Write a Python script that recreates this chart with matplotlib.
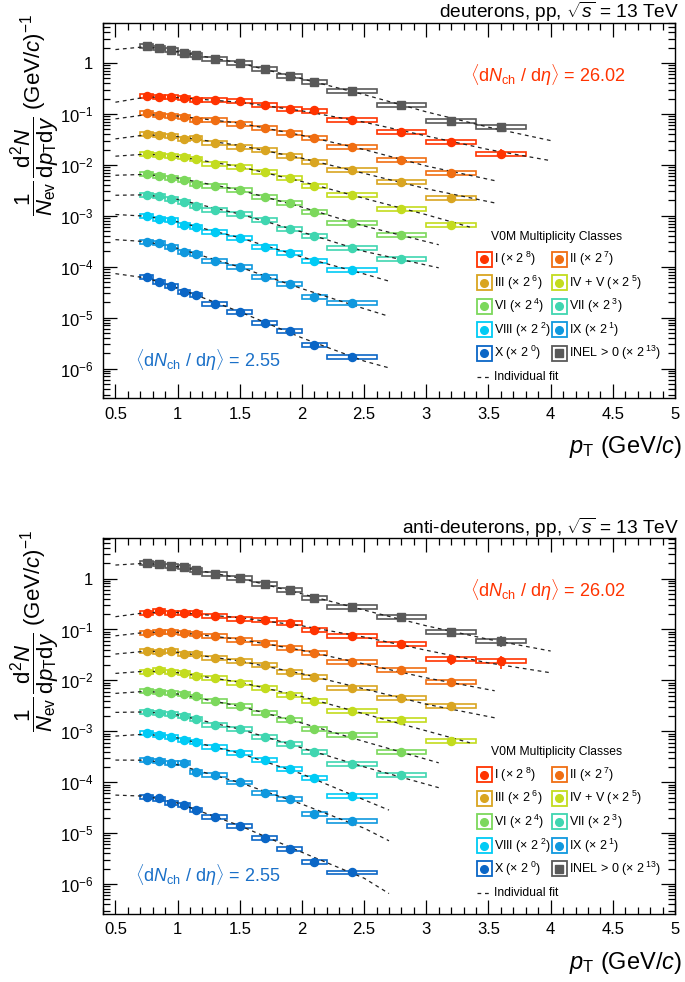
import numpy as np
import matplotlib
matplotlib.use("Agg")
import matplotlib.pyplot as plt
from matplotlib.patches import Rectangle
from matplotlib.ticker import LogLocator, MultipleLocator, FuncFormatter, NullFormatter

plt.rcParams['font.family'] = ['Liberation Sans', 'DejaVu Sans']
plt.rcParams['mathtext.fontset'] = 'custom'
plt.rcParams['mathtext.rm'] = 'Liberation Sans'
plt.rcParams['mathtext.it'] = 'Liberation Sans:italic'
plt.rcParams['mathtext.bf'] = 'Liberation Sans:bold'

W, H = 685, 982

# pT binning (GeV/c)
pt_edges = [0.7, 0.8, 0.9, 1.0, 1.1, 1.2, 1.4, 1.6, 1.8, 2.0, 2.2, 2.6, 3.0, 3.4, 3.8]

class_names = ["I", "II", "III", "IV + V", "VI", "VII", "VIII", "IX", "X", "INEL > 0"]
scale_exp = [8, 7, 6, 5, 4, 3, 2, 1, 0, 13]
class_colors = ["#ff3300", "#f06e12", "#d9a521", "#c3dc1e", "#7cd85c",
                "#3fd6b0", "#00cbf5", "#0f98de", "#0a66c6", "#595959"]

# scaled spectra, deuterons (order I ... X, INEL>0)
deut_yield = [
    [0.223, 0.22, 0.22, 0.21, 0.189, 0.186, 0.181, 0.153, 0.126, 0.117, 0.0776, 0.0445, 0.0283, 0.0167],
    [0.105, 0.0944, 0.0918, 0.086, 0.0752, 0.0766, 0.0648, 0.0533, 0.0425, 0.0333, 0.0222, 0.0127, 0.00684],
    [0.0406, 0.0382, 0.0372, 0.0324, 0.0333, 0.0274, 0.0229, 0.0194, 0.015, 0.0116, 0.00783, 0.00463, 0.00225],
    [0.0167, 0.0159, 0.015, 0.0141, 0.0131, 0.0106, 0.00927, 0.00716, 0.00556, 0.0038, 0.00253, 0.00138, 0.00065],
    [0.00665, 0.00608, 0.00562, 0.00514, 0.0043, 0.0038, 0.00317, 0.00238, 0.00176, 0.00121, 0.000735, 0.000427],
    [0.00261, 0.00242, 0.00218, 0.0019, 0.00154, 0.00132, 0.00109, 0.000816, 0.000553, 0.000405, 0.000237, 0.000144],
    [0.00101, 0.000881, 0.000816, 0.000664, 0.000606, 0.00049, 0.000368, 0.000245, 0.000187, 0.000128, 8.5e-5],
    [0.000311, 0.000294, 0.000245, 0.000195, 0.000181, 0.000132, 9.9e-5, 6.3e-5, 4.6e-5, 2.59e-5, 1.91e-5],
    [6.3e-5, 5.1e-5, 4.2e-5, 3.24e-5, 2.83e-5, 1.86e-5, 1.31e-5, 7.98e-6, 5.56e-6, 2.86e-6, 1.69e-6],
    [2.14, 1.95, 1.78, 1.59, 1.42, 1.21, 1.01, 0.77, 0.568, 0.42, 0.279, 0.151, 0.074, 0.056],
]

# scaled spectra, anti-deuterons
adeut_yield = [
    [0.213, 0.233, 0.213, 0.21, 0.21, 0.183, 0.16, 0.151, 0.132, 0.0986, 0.0741, 0.0517, 0.0259, 0.0236],
    [0.0861, 0.0902, 0.0902, 0.0861, 0.0802, 0.0752, 0.0611, 0.0541, 0.0437, 0.0339, 0.0232, 0.0159, 0.00926],
    [0.0382, 0.0365, 0.0377, 0.0324, 0.0324, 0.027, 0.0239, 0.0197, 0.0146, 0.0115, 0.00697, 0.00443, 0.00317],
    [0.0148, 0.0159, 0.0146, 0.0141, 0.0123, 0.0111, 0.00897, 0.00697, 0.00514, 0.00397, 0.00253, 0.00168, 0.00065],
    [0.00616, 0.00589, 0.00562, 0.00538, 0.00484, 0.00387, 0.00313, 0.00228, 0.00171, 0.00112, 0.00083, 0.000385],
    [0.00238, 0.00231, 0.00218, 0.00199, 0.00174, 0.00132, 0.00109, 0.00078, 0.000553, 0.00039, 0.000224, 0.000138],
    [0.00091, 0.000853, 0.00078, 0.000662, 0.000622, 0.000497, 0.000368, 0.000272, 0.000179, 0.000119, 5.33e-5],
    [0.000272, 0.000264, 0.000241, 0.000234, 0.000158, 0.00014, 9.9e-5, 6.2e-5, 4.6e-5, 2.33e-5, 1.72e-5],
    [5.16e-5, 4.8e-5, 3.94e-5, 3.5e-5, 2.83e-5, 2.09e-5, 1.39e-5, 8.1e-6, 4.79e-6, 2.73e-6, 1.69e-6],
    [1.99, 1.93, 1.79, 1.66, 1.47, 1.24, 1.01, 0.77, 0.586, 0.42, 0.272, 0.173, 0.090, 0.059],
]

# relative uncertainties
sys_rel = 0.09
deut_stat = {0: {12: 0.08, 13: 0.22}, 3: {12: 0.2}}
adeut_stat = {0: {12: 0.22, 13: 0.3}, 3: {12: 0.18}, 8: {10: 0.2}, 9: {13: 0.25}}

# individual fits, values read at the nodes below (last node = fit_end of the class)
fit_nodes = [0.5, 0.75, 1.0, 1.5, 2.0, 2.5, 3.0, 3.5]
fit_end = [4.0, 3.55, 3.55, 3.35, 3.1, 3.1, 2.7, 2.7, 2.7, 4.0]
deut_fit = [
    [0.17, 0.215, 0.21, 0.17, 0.115, 0.069, 0.037, 0.020, 0.0121],
    [0.080, 0.097, 0.091, 0.066, 0.038, 0.020, 0.0095, 0.0049],
    [0.0324, 0.039, 0.036, 0.024, 0.0135, 0.0068, 0.0034, 0.00179],
    [0.0148, 0.0163, 0.0146, 0.0092, 0.0047, 0.0022, 0.00105, 0.00060],
    [0.00625, 0.0065, 0.0055, 0.0032, 0.00148, 0.00063, 0.00027],
    [0.00253, 0.00258, 0.0021, 0.00108, 0.00048, 0.0002, 9.5e-5],
    [0.00106, 0.00098, 0.00076, 0.00037, 0.000155, 7.2e-5, 5.2e-5],
    [0.00034, 0.00031, 0.00023, 9.8e-5, 3.7e-5, 1.5e-5, 1.06e-5],
    [7.3e-5, 6.0e-5, 3.8e-5, 1.3e-5, 4.0e-6, 1.4e-6, 1.03e-6],
    [1.84, 2.1, 1.68, 1.0, 0.49, 0.24, 0.11, 0.055, 0.030],
]
adeut_fit = [
    [0.178, 0.215, 0.215, 0.17, 0.118, 0.071, 0.039, 0.022, 0.0141],
    [0.075, 0.088, 0.088, 0.064, 0.039, 0.021, 0.0112, 0.00625],
    [0.0329, 0.0375, 0.0355, 0.024, 0.0135, 0.0068, 0.0034, 0.00184],
    [0.0137, 0.0152, 0.0142, 0.0092, 0.0048, 0.0022, 0.00102, 0.000594],
    [0.00555, 0.0061, 0.0054, 0.0031, 0.00145, 0.00063, 0.00024],
    [0.00235, 0.0024, 0.0021, 0.0011, 0.00047, 0.0002, 7.8e-5],
    [0.000805, 0.00088, 0.00074, 0.00037, 0.000145, 4.5e-5, 2.83e-5],
    [0.000272, 0.00027, 0.00022, 9.8e-5, 3.7e-5, 1.25e-5, 7.06e-6],
    [5.58e-5, 5.3e-5, 3.9e-5, 1.4e-5, 4.2e-6, 1.3e-6, 6.5e-7],
    [1.84, 2.0, 1.72, 1.02, 0.5, 0.24, 0.118, 0.064, 0.0377],
]

panel_titles = ["deuterons, pp, $\\sqrt{s}$ = 13 TeV", "anti-deuterons, pp, $\\sqrt{s}$ = 13 TeV"]
dndeta_high = "26.02"
dndeta_low = "2.55"


def fx(px):
    return px / W


def fy(py):
    return 1 - py / H


def log_label(v, pos):
    e = int(round(np.log10(v)))
    if e == 0:
        return "1"
    return "$10^{%d}$" % e


fig = plt.figure(figsize=(W / 100, H / 100), dpi=100)

edges = np.array(pt_edges)
centers = 0.5 * (edges[:-1] + edges[1:])
widths = np.diff(edges)


def draw_panel(dy, yields, fits, stats, title):
    ax = fig.add_axes([fx(103), fy(398.3 + dy), 572 / W, 375.6 / H])
    ax.set_yscale("log")
    ax.set_xlim(0.4, 5.0)
    ax.set_ylim(2.6e-7, 6.2)

    for k in range(len(class_names)):
        c = class_colors[k]
        y = np.array(yields[k])
        n = len(y)
        # systematic boxes
        for i in range(n):
            ax.add_patch(Rectangle((edges[i], y[i] * (1 - sys_rel)), widths[i], 2 * sys_rel * y[i],
                                   facecolor="none", edgecolor=c, lw=1.2, zorder=2))
        # fit
        fxs = [p for p in fit_nodes if p < fit_end[k] - 0.15] + [fit_end[k]]
        ax.plot(fxs, fits[k], ls=(0, (3, 3)), color="#222222", lw=0.9, zorder=3)
        # points
        err = np.array([stats.get(k, {}).get(i, 0.0) for i in range(n)]) * y
        marker = "s" if k == len(class_names) - 1 else "o"
        ax.errorbar(centers[:n], y, yerr=err, fmt=marker, ms=5.8, color=c, mec=c,
                    elinewidth=1.2, capsize=0, zorder=4)

    ax.xaxis.set_major_locator(MultipleLocator(0.5))
    ax.xaxis.set_minor_locator(MultipleLocator(0.1))
    ax.xaxis.set_major_formatter(FuncFormatter(lambda v, p: "%g" % v))
    ax.yaxis.set_major_locator(LogLocator(base=10, numticks=20))
    ax.yaxis.set_minor_locator(LogLocator(base=10, subs=np.arange(2, 10), numticks=20))
    ax.yaxis.set_major_formatter(FuncFormatter(log_label))
    ax.yaxis.set_minor_formatter(NullFormatter())
    ax.tick_params(which="both", direction="in", top=True, right=True, width=0.9, labelsize=12)
    ax.tick_params(which="major", length=10)
    ax.tick_params(which="minor", length=5)
    ax.tick_params(axis="x", pad=6)
    ax.tick_params(axis="y", pad=7)
    for s in ax.spines.values():
        s.set_linewidth(1.0)

    # texts
    fig.text(fx(679), fy(12 + dy), title, ha="right", va="center", size=13.8)
    fig.text(fx(470), fy(81.7 + dy), r"$\langle{\rm d}N_{\rm ch}\ /\ {\rm d}\eta\rangle$ = " + dndeta_high,
             ha="left", va="baseline", size=13, color=class_colors[0])
    fig.text(fx(135), fy(366.7 + dy), r"$\langle{\rm d}N_{\rm ch}\ /\ {\rm d}\eta\rangle$ = " + dndeta_low,
             ha="left", va="baseline", size=13, color="#1a70c8")
    fig.text(fx(682), fy(447 + dy), r"$p_{\rm T}$ (GeV/$c$)", ha="right", va="center", size=17)
    fig.text(fx(35), fy(14 + dy),
             r"$\dfrac{1}{N_{\rm ev}}\,\dfrac{{\rm d}^{2}N}{{\rm d}p_{\rm T}{\rm d}y}$ (GeV/$c$)$^{-1}$",
             rotation=90, ha="center", va="top", size=16)

    # legend
    fig.text(fx(557), fy(236.7 + dy), "V0M Multiplicity Classes", ha="center", va="center", size=8.7)
    rows = [259, 282.7, 306, 330, 353.3]
    cols = [484.2, 559.2]
    for k in range(len(class_names)):
        r, cidx = divmod(k, 2)
        cx, cy = cols[cidx], rows[r] + dy
        c = class_colors[k]
        fig.add_artist(Rectangle((fx(cx - 7.5), fy(cy + 7.5)), 15 / W, 15 / H, transform=fig.transFigure,
                                 facecolor="none", edgecolor=c, lw=1.3))
        marker = "s" if k == len(class_names) - 1 else "o"
        fig.add_artist(plt.Line2D([fx(cx)], [fy(cy)], marker=marker, ms=5.5, color=c, ls="",
                                  transform=fig.transFigure))
        fig.text(fx(cx + 10), fy(cy), r"%s ($\times$ 2$^{\ %d}$)" % (class_names[k], scale_exp[k]),
                 ha="left", va="center", size=9)
    fig.add_artist(plt.Line2D([fx(476.7), fx(490)], [fy(377.3 + dy)] * 2, ls=(0, (3, 3)), lw=0.9,
                              color="#222222", transform=fig.transFigure))
    fig.text(fx(494.3), fy(377.3 + dy), "Individual fit", ha="left", va="center", size=8.7)
    return ax


draw_panel(0, deut_yield, deut_fit, deut_stat, panel_titles[0])
draw_panel(515.5, adeut_yield, adeut_fit, adeut_stat, panel_titles[1])

fig.savefig("out.png", dpi=100)
